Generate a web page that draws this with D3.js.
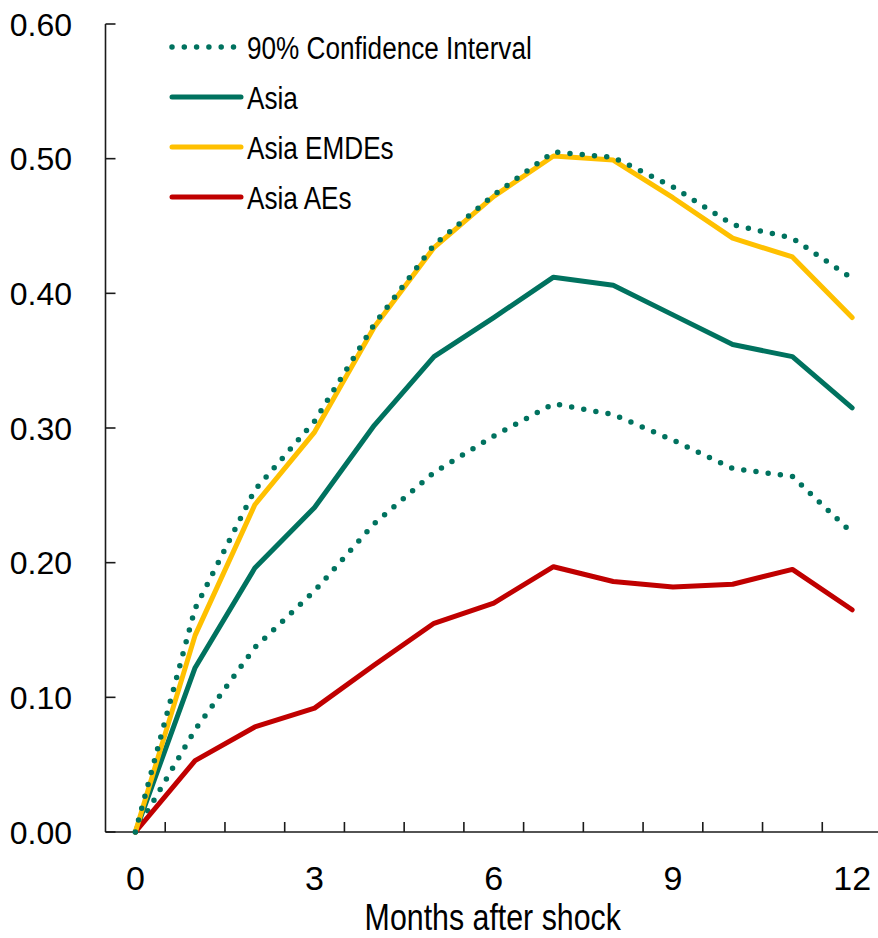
<!DOCTYPE html>
<html>
<head>
<meta charset="utf-8">
<script src="https://cdn.jsdelivr.net/npm/d3@7"></script>
<style>
  html, body { margin: 0; padding: 0; background: #fff; }
  svg { display: block; }
  text { font-family: "Liberation Sans", Arial, sans-serif; fill: #000; }
</style>
</head>
<body>
<div id="chart"></div>
<script>
// Months after the shock (x categories)
const months = [0, 1, 2, 3, 4, 5, 6, 7, 8, 9, 10, 11, 12];
const xTickLabels = [0, 3, 6, 9, 12];
const yTickValues = [0, 0.1, 0.2, 0.3, 0.4, 0.5, 0.6];

// Impulse responses
const asia      = [0, 0.122, 0.196, 0.241, 0.302, 0.353, 0.382, 0.412, 0.406, 0.384, 0.362, 0.353, 0.315];
const asiaEMDEs = [0, 0.146, 0.243, 0.297, 0.375, 0.434, 0.472, 0.502, 0.499, 0.471, 0.441, 0.427, 0.382];
const asiaAEs   = [0, 0.053, 0.078, 0.092, 0.124, 0.155, 0.170, 0.197, 0.186, 0.182, 0.184, 0.195, 0.165];
const ciUpper   = [0, 0.166, 0.254, 0.305, 0.377, 0.436, 0.473, 0.505, 0.501, 0.479, 0.451, 0.441, 0.411];
const ciLower   = [0, 0.076, 0.137, 0.179, 0.229, 0.267, 0.294, 0.318, 0.310, 0.291, 0.270, 0.264, 0.222];

const legendItems = [
  { label: "90% Confidence Interval", color: "#00725F", dotted: true },
  { label: "Asia", color: "#00725F", dotted: false },
  { label: "Asia EMDEs", color: "#FFC000", dotted: false },
  { label: "Asia AEs", color: "#C00000", dotted: false }
];

const W = 878, H = 938;
const svg = d3.select("#chart").append("svg").attr("width", W).attr("height", H);

const x = d3.scaleLinear().domain([-0.5, 12.5]).range([105.5, 882]);
const y = d3.scaleLinear().domain([0, 0.6]).range([832, 24]);

const axisColor = "#1a1a1a";

// Y axis: line with inward ticks
svg.append("line")
  .attr("x1", x(-0.5)).attr("x2", x(-0.5))
  .attr("y1", y(0.6)).attr("y2", y(0))
  .attr("stroke", axisColor).attr("stroke-width", 1.6);
svg.selectAll(".ytick").data(yTickValues).enter().append("line")
  .attr("x1", x(-0.5)).attr("x2", x(-0.5) + 10)
  .attr("y1", d => y(d)).attr("y2", d => y(d))
  .attr("stroke", axisColor).attr("stroke-width", 1.6);
svg.selectAll(".ylab").data(yTickValues).enter().append("text")
  .attr("x", 72).attr("y", d => y(d))
  .attr("dy", "0.36em")
  .attr("text-anchor", "end")
  .style("font-size", "32px")
  .text(d => d.toFixed(2));

// X axis: line with inward ticks between categories
svg.append("line")
  .attr("x1", x(-0.5)).attr("x2", x(12.5))
  .attr("y1", y(0)).attr("y2", y(0))
  .attr("stroke", axisColor).attr("stroke-width", 1.6);
const xTicks = d3.range(0.5, 12.6, 1);
svg.selectAll(".xtick").data(xTicks).enter().append("line")
  .attr("x1", d => x(d)).attr("x2", d => x(d))
  .attr("y1", y(0)).attr("y2", y(0) - 10)
  .attr("stroke", axisColor).attr("stroke-width", 1.6);
svg.selectAll(".xlab").data(xTickLabels).enter().append("text")
  .attr("x", d => x(d)).attr("y", 890)
  .attr("text-anchor", "middle")
  .style("font-size", "34px")
  .text(d => d);

svg.append("text")
  .attr("transform", `translate(${(x(-0.5) + x(12.5)) / 2 - 1},930) scale(0.82,1)`)
  .attr("text-anchor", "middle")
  .style("font-size", "37px")
  .text("Months after shock");

// Series lines
const line = d3.line().x((d, i) => x(months[i])).y(d => y(d));
const series = [
  { values: ciLower, color: "#00725F", dotted: true },
  { values: ciUpper, color: "#00725F", dotted: true },
  { values: asia, color: "#00725F", dotted: false },
  { values: asiaAEs, color: "#C00000", dotted: false },
  { values: asiaEMDEs, color: "#FFC000", dotted: false }
];
// draw the upper CI above the EMDE line as in the layering of the figure
const order = [series[0], series[2], series[3], series[4], series[1]];
order.forEach(s => {
  svg.append("path")
    .attr("d", line(s.values))
    .attr("fill", "none")
    .attr("stroke", s.color)
    .attr("stroke-width", s.dotted ? 5.5 : 5)
    .attr("stroke-linecap", "round")
    .attr("stroke-linejoin", "round")
    .attr("stroke-dasharray", s.dotted ? "0 12.3" : null);
});

// Legend
const legend = svg.append("g");
legendItems.forEach((item, i) => {
  const cy = 47 + i * 50;
  legend.append("line")
    .attr("x1", 172).attr("x2", item.dotted ? 237 : 241)
    .attr("y1", cy).attr("y2", cy)
    .attr("stroke", item.color)
    .attr("stroke-width", item.dotted ? 5.5 : 5)
    .attr("stroke-linecap", "round")
    .attr("stroke-dasharray", item.dotted ? "0 12.3" : null);
  legend.append("text")
    .attr("transform", `translate(247,${cy + 11.5}) scale(0.83,1)`)
    .style("font-size", "31.5px")
    .text(item.label);
});
</script>
</body>
</html>
